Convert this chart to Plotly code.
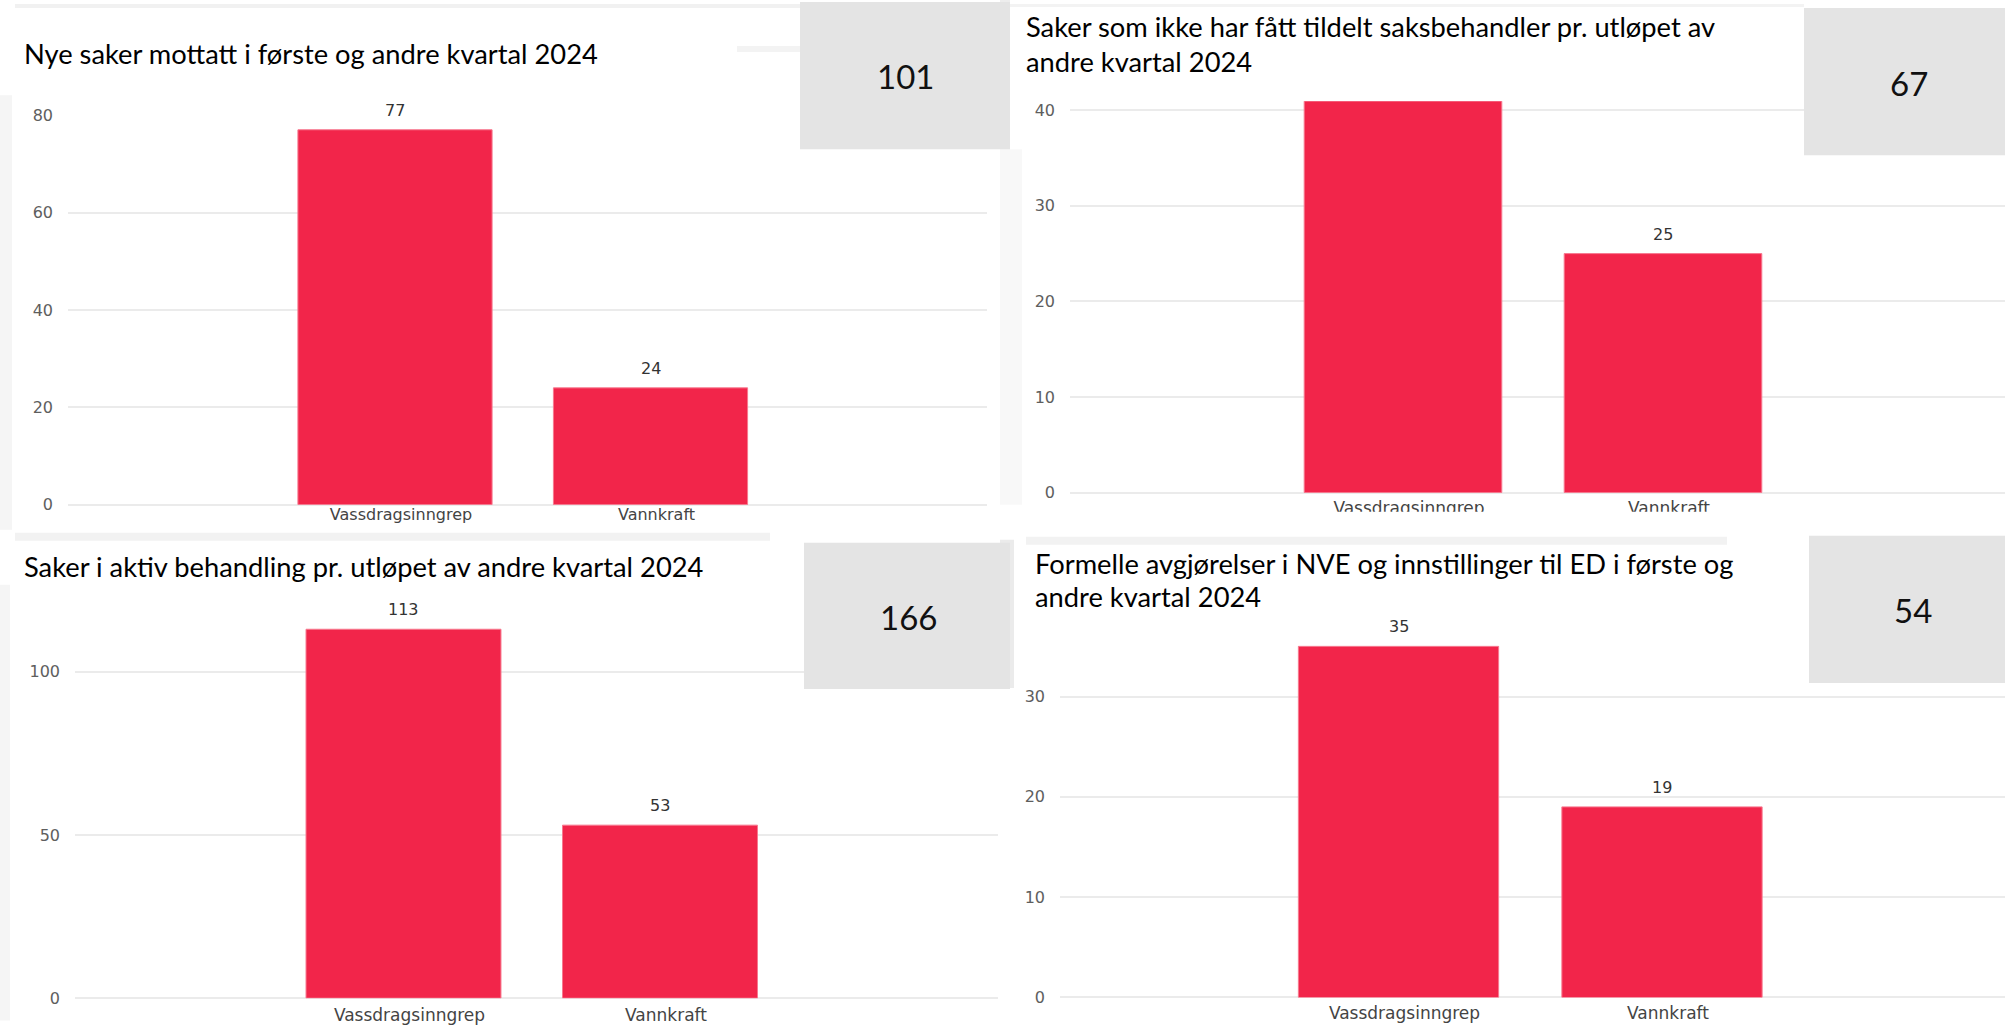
import plotly.graph_objects as go

W, H = 2005, 1025

# ---------------- data ----------------
categories = ["Vassdragsinngrep", "Vannkraft"]

titles_nye = ["Nye saker mottatt i første og andre kvartal 2024"]
titles_ikke_tildelt = ["Saker som ikke har fått tildelt saksbehandler pr. utløpet av",
                       "andre kvartal 2024"]
titles_aktiv = ["Saker i aktiv behandling pr. utløpet av andre kvartal 2024"]
titles_avgjorelser = ["Formelle avgjørelser i NVE og innstillinger til ED i første og",
                      "andre kvartal 2024"]

values_nye = [77, 24]
values_ikke_tildelt = [42, 25]
values_aktiv = [113, 53]
values_avgjorelser = [35, 19]

ticks_nye = [0, 20, 40, 60, 80]
ticks_ikke_tildelt = [0, 10, 20, 30, 40]
ticks_aktiv = [0, 50, 100]
ticks_avgjorelser = [0, 10, 20, 30]

# ---------------- layout (target pixels) ----------------
panels = [
    dict(values=values_nye, titles=titles_nye, ticks=ticks_nye,
         x0=68, x1=987, c1=395, unit=255.5, yzero=505, ytop=116, ymax=80,
         tx=22, ty=[54], box=(800, 3, 1010, 150), num=(905, 77), standoff=-2, catsize=16),
    dict(values=values_ikke_tildelt, titles=titles_ikke_tildelt, ticks=ticks_ikke_tildelt,
         x0=1070, x1=2005, c1=1403, unit=260, yzero=493, ytop=102, ymax=40.94,
         tx=1024, ty=[27.5, 62], box=(1804, 9, 2005, 156), num=(1909, 84), standoff=3, catsize=17),
    dict(values=values_aktiv, titles=titles_aktiv, ticks=ticks_aktiv,
         x0=75, x1=998, c1=403.5, unit=256.5, yzero=997.7, ytop=606.5, ymax=120,
         tx=22, ty=[566.7], box=(804, 543, 1010, 689), num=(908, 617), standoff=5, catsize=17),
    dict(values=values_avgjorelser, titles=titles_avgjorelser, ticks=ticks_avgjorelser,
         x0=1060, x1=2005, c1=1398.5, unit=263.5, yzero=997, ytop=636.4, ymax=36,
         tx=1033, ty=[564, 597], box=(1809, 536, 2005, 683), num=(1913, 610), standoff=4, catsize=17),
]

BAR = "#F2254A"
GRID = "#EBEBEB"
TITLE_FONT = "Lato"
AX_FONT = "DejaVu Sans"

# the page is photographed with a slight vertical squeeze; compensate
Y_OFF, Y_SCALE = 10.0, 0.98

fig = go.Figure()
annotations = []
shapes = []


def px_x(x):
    return x / W


def px_y(y):
    return 1 - ((y - Y_OFF) / Y_SCALE) / H


# faint canvas pieces (background)
bg_rects = [
    (15, 5, 800, 9, "#F1F1F1"),
    (737, 47, 800, 53, "#F3F3F3"),
    (0, 96, 12, 530, "#F5F5F5"),
    (15, 533, 770, 541, "#F2F2F2"),
    (1000, 0, 1010, 150, "#EDEDED"),
    (1000, 150, 1022, 505, "#F8F8F8"),
    (1010, 5, 1804, 8, "#F3F3F3"),
    (0, 585, 10, 1020, "#F5F5F5"),
    (1000, 540, 1014, 688, "#EBEBEB"),
]
for (a, b, c, d, col) in bg_rects:
    shapes.append(dict(type="rect", xref="paper", yref="paper",
                       x0=px_x(a), x1=px_x(c), y0=px_y(d), y1=px_y(b),
                       fillcolor=col, line=dict(width=0), layer="below"))

layout_axes = {}
for i, p in enumerate(panels):
    n = "" if i == 0 else str(i + 1)
    xa, ya = "x" + n, "y" + n
    fig.add_trace(go.Bar(
        x=categories, y=p["values"], xaxis=xa, yaxis=ya,
        marker=dict(color=BAR, line=dict(color="#F7798F", width=1)),
        cliponaxis=True, showlegend=False, hoverinfo="x+y",
    ))
    xr = [(p["x0"] - p["c1"]) / p["unit"], (p["x1"] - p["c1"]) / p["unit"]]
    layout_axes["xaxis" + n] = dict(
        domain=[px_x(p["x0"]), px_x(p["x1"])], anchor=ya, range=xr,
        type="category", showgrid=False, zeroline=False, showline=False,
        ticks="", tickfont=dict(family=AX_FONT, size=p["catsize"], color="#444444"),
        ticklabelstandoff=p["standoff"], ticklabelshift=6, fixedrange=True,
    )
    layout_axes["yaxis" + n] = dict(
        domain=[px_y(p["yzero"]), px_y(p["ytop"])], anchor=xa, range=[0, p["ymax"]],
        tickvals=p["ticks"], showgrid=True, gridcolor=GRID, gridwidth=2,
        zeroline=True, zerolinecolor=GRID, zerolinewidth=2, showline=False,
        ticks="", tickfont=dict(family=AX_FONT, size=16, color="#5E5E5E"),
        ticklabelstandoff=14, fixedrange=True,
    )
    # value labels (hidden when the bar runs past the visible range, as in the source)
    for cat, v in zip(categories, p["values"]):
        if v <= p["ymax"]:
            annotations.append(dict(
                x=cat, y=v, xref=xa, yref=ya, text=str(v), showarrow=False,
                yanchor="middle", yshift=19.4,
                font=dict(family=AX_FONT, size=16, color="#333333")))
    # titles
    for line, ty in zip(p["titles"], p["ty"]):
        annotations.append(dict(
            x=px_x(p["tx"]), y=px_y(ty), xref="paper", yref="paper",
            text=line, showarrow=False, xanchor="left", yanchor="middle",
            font=dict(family=TITLE_FONT, size=27.3, color="#000000")))
    # total card
    bx0, by0, bx1, by1 = p["box"]
    shapes.append(dict(type="rect", xref="paper", yref="paper",
                       x0=px_x(bx0), x1=px_x(bx1), y0=px_y(by1), y1=px_y(by0),
                       fillcolor="#E4E4E4", line=dict(width=0), layer="above"))
    annotations.append(dict(
        x=px_x(p["num"][0]), y=px_y(p["num"][1]), xref="paper", yref="paper",
        text=str(sum(p["values"])), showarrow=False, xanchor="center", yanchor="middle",
        font=dict(family=TITLE_FONT, size=33, color="#111111")))

# the second visual's category labels are cut off at its lower edge
shapes.append(dict(type="rect", xref="paper", yref="paper",
                   x0=px_x(1000), x1=px_x(2005), y0=px_y(535), y1=px_y(512),
                   fillcolor="#FFFFFF", line=dict(width=0), layer="above"))
shapes.append(dict(type="rect", xref="paper", yref="paper",
                   x0=px_x(1026), x1=px_x(1727), y0=px_y(545), y1=px_y(537),
                   fillcolor="#F2F2F2", line=dict(width=0), layer="above"))

fig.update_layout(
    width=W, height=H, margin=dict(l=0, r=0, t=0, b=0),
    paper_bgcolor="#FFFFFF", plot_bgcolor="rgba(0,0,0,0)",
    bargap=0.24, annotations=annotations, shapes=shapes,
    **layout_axes,
)

page_fix = (
    "document.documentElement.style.margin='0';"
    "document.documentElement.style.overflow='hidden';"
    "document.body.style.margin='0';document.body.style.overflow='hidden';"
    "var gd=document.querySelector('.plotly-graph-div');"
    "gd.style.position='fixed';gd.style.left='0px';gd.style.top='0px';"
)

fig.write_html("out.html", config={"displayModeBar": False}, post_script=page_fix)
